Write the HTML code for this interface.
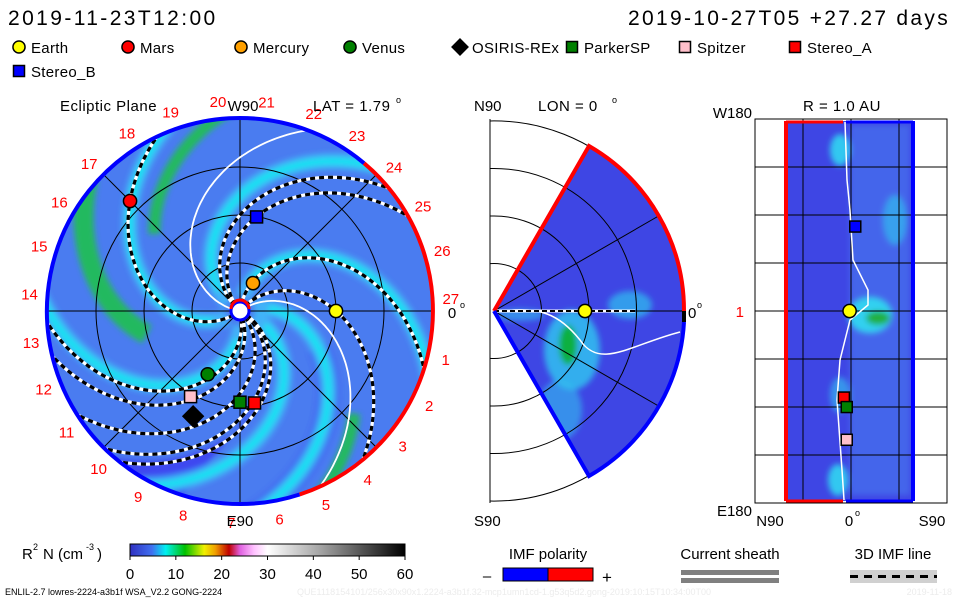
<!DOCTYPE html>
<html><head><meta charset="utf-8">
<style>
body{margin:0;background:#fff;width:960px;height:600px;overflow:hidden;font-family:"Liberation Sans",sans-serif;}
svg{display:block}
text{font-family:"Liberation Sans",sans-serif;}
</style></head>
<body>
<svg id="chart" width="960" height="600" viewBox="0 0 960 600" xmlns="http://www.w3.org/2000/svg">
<defs>
<linearGradient id="cbar" x1="0" x2="1" y1="0" y2="0">
<stop offset="0" stop-color="#3030c0"/><stop offset="0.08" stop-color="#4070f0"/>
<stop offset="0.13" stop-color="#00f0f0"/><stop offset="0.2" stop-color="#00c000"/>
<stop offset="0.27" stop-color="#f0f000"/><stop offset="0.31" stop-color="#f0a000"/>
<stop offset="0.36" stop-color="#c00000"/><stop offset="0.4" stop-color="#e060e0"/>
<stop offset="0.45" stop-color="#ffc0ff"/><stop offset="0.5" stop-color="#ffffff"/>
<stop offset="0.7" stop-color="#a0a0a0"/><stop offset="1" stop-color="#000"/>
</linearGradient>
<clipPath id="discClip"><circle cx="240" cy="311" r="193"/></clipPath>
<clipPath id="wedgeClip"><path d="M494 311 L589 146 A190 190 0 0 1 589 476 Z"/></clipPath>
<clipPath id="midFrame"><rect x="490" y="119" width="200" height="384"/></clipPath>
<filter id="blur4"><feGaussianBlur stdDeviation="3"/></filter>
</defs>
<g id="root"></g>
</svg>
<script>
// ---- data ----
const bodyNames = ["Earth","Mars","Mercury","Venus","OSIRIS-REx","ParkerSP","Spitzer","Stereo_A","Stereo_B"];
const bodyColors = ["#ffff00","#ff0000","#ffa000","#008000","#000000","#008000","#ffc0cb","#ff0000","#0000ff"];
const bodyShapes = ["circle","circle","circle","circle","diamond","square","square","square","square"];
const bodyR = [1.0,1.62,0.32,0.74,1.2,0.95,1.03,0.97,0.995];
const bodyLon = [0,135,65,243,246,270,240,279,80];
const imfStart = [83,50,140,130,216,284,294,313,326,332];
const sheathStart = [170,35];
const greenBands = [244,198,38];
const cyanBands = [20,85,150,215,280,345];
const rTicks = [0.5,1.0,1.5,2.0];
const cbarTicks = [0,10,20,30,40,50,60];
const latBodyIdx = [0,8,7,5,6];
const latLat = [-1,3,-5,-3,-3];
const latLon = [0,80,-82,-91,-122];

const NS="http://www.w3.org/2000/svg";
const root=document.getElementById('root');
function el(tag,attrs,parent){const e=document.createElementNS(NS,tag);for(const k in attrs)e.setAttribute(k,attrs[k]);(parent||root).appendChild(e);return e;}
function txt(x,y,s,size,fill,anchor,parent,ls){const t=el('text',{x:x,y:y,'font-size':size,fill:fill||'#000','text-anchor':anchor||'start'},parent);if(ls)t.setAttribute('letter-spacing',ls);t.textContent=s;return t;}

const CX=240,CY=311,SC=96,K=50;
function px(r,deg){const a=deg*Math.PI/180;return [CX+r*SC*Math.cos(a),CY-r*SC*Math.sin(a)];}
function spiral(th0,k,r0,r1){let d='';for(let r=r0;r<=r1+1e-6;r+=0.02){const p=px(r,th0-k*r);d+=(d?'L':'M')+p[0].toFixed(1)+' '+p[1].toFixed(1);}return d;}

let t=txt(8,25,"2019-11-23T12:00",21,'#000','start',null,2.4);

t=txt(950,25,"2019-10-27T05 +27.27 days",21,'#000','end',null,2.3);


const legX=[14,123,236,345,455,567,680,790,14],legY=[47,47,47,47,47,47,47,47,71];
function marker(parent,shape,x,y,c,s){
  if(shape==='circle')return el('circle',{cx:x,cy:y,r:s*0.55,fill:c,stroke:'#000','stroke-width':1.5},parent);
  if(shape==='diamond')return el('path',{d:`M${x} ${y-s*0.75}L${x+s*0.75} ${y}L${x} ${y+s*0.75}L${x-s*0.75} ${y}Z`,fill:c,stroke:'#000','stroke-width':1},parent);
  return el('rect',{x:x-s/2,y:y-s/2,width:s,height:s,fill:c,stroke:'#000','stroke-width':1.5},parent);
}
bodyNames.forEach((n,i)=>{
  const g=el('g',{});
  
  
  marker(g,bodyShapes[i],legX[i]+5,legY[i],bodyColors[i],11);
  txt(legX[i]+17,legY[i]+6,n,15,'#000','start',g,0.3);
});

// ---- ecliptic panel ----
const ecl=el('g',{});


const bg=el('g',{'clip-path':'url(#discClip)'},ecl);
el('circle',{cx:CX,cy:CY,r:193,fill:'#4a7cf0'},bg);
const soft=el('g',{filter:'url(#blur4)'},bg);
el('path',{d:spiral(330,K,0.9,2.3)+'L'+px(2.3,200).join(' ')+'L'+px(2.3,250).join(' ')+'Z',fill:'#3c3cf0',opacity:0.8},soft);
el('path',{d:spiral(20,K,0.9,2.3),fill:'none',stroke:'#3c3cf0','stroke-width':22,opacity:0.7},soft);
cyanBands.forEach(a=>{
  const p=el('path',{d:spiral(a,K,0.15,2.1),fill:'none',stroke:'#40b8f8','stroke-width':16,opacity:0.9},soft);
  
  
  el('path',{d:spiral(a,K,0.3,2.1),fill:'none',stroke:'#00f0f0','stroke-width':7,opacity:0.8},soft);
});
const gRange=[[1.0,2.1],[1.2,2.1],[1.6,2.1]];
greenBands.forEach((a,i)=>{
  const p=el('path',{d:spiral(a,K,gRange[i][0],gRange[i][1]),fill:'none',stroke:'#20c050','stroke-width':i===0?20:12,opacity:0.9},soft);
  
  
});
rTicks.slice(0,3).forEach(r=>el('circle',{cx:CX,cy:CY,r:r*SC,fill:'none',stroke:'#000','stroke-width':1},bg));
[0,45,90,135].forEach(a=>{const p1=px(2.1,a),p2=px(2.1,a+180);el('line',{x1:p1[0],y1:p1[1],x2:p2[0],y2:p2[1],stroke:'#000','stroke-width':1},bg);});
sheathStart.forEach(a=>{
  const p=el('path',{d:spiral(a,K,0.1,2.1),fill:'none',stroke:'#fff','stroke-width':1.8},bg);
  
  
});
imfStart.forEach(a=>{
  const g=el('g',{},bg);
  
  
  el('path',{d:spiral(a,K,0.08,2.05),fill:'none',stroke:'#fff','stroke-width':3.2},g);
  el('path',{d:spiral(a,K,0.08,2.05),fill:'none',stroke:'#000','stroke-width':3.2,'stroke-dasharray':'5 4'},g);
});
el('path',{d:`M${px(2.01,-72).join(' ')} A193 193 0 0 0 ${px(2.01,50).join(' ')}`,fill:'none',stroke:'#ff0000','stroke-width':4},ecl);
el('path',{d:`M${px(2.01,50).join(' ')} A193 193 0 1 0 ${px(2.01,-72).join(' ')}`,fill:'none',stroke:'#0000ff','stroke-width':4},ecl);
el('circle',{cx:CX,cy:CY,r:9,fill:'#fff',stroke:'#0000ff','stroke-width':3},ecl);
el('path',{d:'M231 309 A9 9 0 0 1 249 309',fill:'none',stroke:'#ff0000','stroke-width':3},ecl);
for(let d=1;d<=27;d++){
  const ang=-(d)*360/27.27;const p=px(2.2,ang);
  txt(p[0],p[1]+6,String(d),15,'#ff0000','middle',ecl);
}
txt(452,318,"0",15,'#000','middle',ecl);txt(460,308,"o",9,'#000','start',ecl);
txt(60,111,"Ecliptic Plane",15,'#000','start',ecl,0.5);
txt(243,111,"W90",15,'#000','middle',ecl);
txt(240,526,"E90",15,'#000','middle',ecl);
txt(313,111,"LAT = 1.79",15,'#000','start',ecl,0.5);txt(396,103,"o",9,'#000','start',ecl);
bodyNames.forEach((n,i)=>{
  const p=px(bodyR[i],bodyLon[i]);
  const m=marker(ecl,bodyShapes[i],p[0],p[1],bodyColors[i],bodyShapes[i]==='diamond'?14:12);
  
  
});

// ---- meridional panel ----
const MX=494,MY=311;
const mer=el('g',{});


const mg=el('g',{'clip-path':'url(#midFrame)'},mer);
rTicks.forEach(r=>el('circle',{cx:MX,cy:MY,r:r*SC*0.99,fill:'none',stroke:'#000','stroke-width':1},mg));
el('line',{x1:490,y1:119,x2:490,y2:503,stroke:'#000'},mer);
const wg=el('g',{'clip-path':'url(#wedgeClip)'},mer);
el('rect',{x:490,y:140,width:200,height:340,fill:'#3e46e4'},wg);
const ws=el('g',{filter:'url(#blur4)'},wg);
el('ellipse',{cx:572,cy:350,rx:28,ry:40,fill:'#30c8f0',opacity:0.8},ws);
el('ellipse',{cx:568,cy:345,rx:9,ry:20,fill:'#10b040'},ws);
el('ellipse',{cx:630,cy:305,rx:22,ry:14,fill:'#30c0f0',opacity:0.7},ws);
el('ellipse',{cx:560,cy:410,rx:22,ry:30,fill:'#30c0f0',opacity:0.6},ws);
el('ellipse',{cx:520,cy:315,rx:25,ry:6,fill:'#30c0f0',opacity:0.6},ws);
el('line',{x1:494,y1:311,x2:690,y2:311,stroke:'#000'},wg);
[60,30,-30,-60].forEach(a=>{const r=a*Math.PI/180;el('line',{x1:MX,y1:MY,x2:MX+200*Math.cos(r),y2:MY-200*Math.sin(r),stroke:'#000'},wg);});
rTicks.forEach(r=>el('circle',{cx:MX,cy:MY,r:r*SC*0.99,fill:'none',stroke:'#000','stroke-width':1},wg));
el('path',{d:'M497 312 C540 305 560 315 580 340 C600 370 630 345 680 332',fill:'none',stroke:'#fff','stroke-width':1.5},wg);
el('path',{d:'M494 311 L635 311',stroke:'#fff','stroke-width':3,fill:'none'},wg);
el('path',{d:'M494 311 L635 311',stroke:'#000','stroke-width':2,'stroke-dasharray':'5 3',fill:'none'},wg);
el('path',{d:'M494 311 L589 146 A190 190 0 0 1 684 311',fill:'none',stroke:'#ff0000','stroke-width':4},mer);
el('path',{d:'M684 322 A190 190 0 0 1 589 476 L494 311',fill:'none',stroke:'#0000ff','stroke-width':4},mer);
el('line',{x1:684,y1:311,x2:684,y2:322,stroke:'#000','stroke-width':4},mer);
marker(mer,'circle',585,311,'#ffff00',12);
txt(474,111,"N90",15);txt(538,111,"LON = 0",15,'#000','start',null,0.5);txt(612,103,"o",9);
txt(474,526,"S90",15);txt(688,318,"0",15);txt(697,308,"o",9);

// ---- R = 1 AU panel ----
const rp=el('g',{});


el('rect',{x:755,y:119,width:192,height:384,fill:'none',stroke:'#000'},rp);
el('rect',{x:786,y:121,width:128,height:380,fill:'#3e46e4'},rp);
const rs=el('g',{filter:'url(#blur4)'},rp);
el('rect',{x:850,y:125,width:60,height:370,fill:'#4a7cf0',opacity:0.6},rs);
el('ellipse',{cx:870,cy:315,rx:22,ry:18,fill:'#30d0f0'},rs);
el('ellipse',{cx:878,cy:318,rx:12,ry:7,fill:'#20b040'},rs);
el('ellipse',{cx:840,cy:150,rx:10,ry:16,fill:'#30c8f0'},rs);
el('ellipse',{cx:838,cy:480,rx:10,ry:16,fill:'#30c8f0'},rs);
el('ellipse',{cx:895,cy:220,rx:12,ry:25,fill:'#30c8f0',opacity:0.6},rs);
el('ellipse',{cx:840,cy:395,rx:10,ry:18,fill:'#30c8f0',opacity:0.6},rs);
[803,851,899].forEach(x=>el('line',{x1:x,y1:119,x2:x,y2:503,stroke:'#000'},rp));
[167,215,263,311,359,407,455].forEach(y=>el('line',{x1:755,y1:y,x2:947,y2:y,stroke:'#000'},rp));
el('path',{d:'M845 122 L847 180 L850 210 L853 260 L868 290 L868 305 L850 320 L840 360 L837 400 L842 470 L844 500',fill:'none',stroke:'#fff','stroke-width':1.5},rp);
el('line',{x1:786,y1:121,x2:786,y2:501,stroke:'#ff0000','stroke-width':4},rp);
el('line',{x1:913,y1:121,x2:913,y2:501,stroke:'#0000ff','stroke-width':4},rp);
el('line',{x1:786,y1:122,x2:843,y2:122,stroke:'#ff0000','stroke-width':3},rp);
el('line',{x1:846,y1:122,x2:913,y2:122,stroke:'#0000ff','stroke-width':3},rp);
el('line',{x1:786,y1:501,x2:843,y2:501,stroke:'#ff0000','stroke-width':3},rp);
el('line',{x1:846,y1:501,x2:913,y2:501,stroke:'#0000ff','stroke-width':3},rp);
latBodyIdx.forEach((bi,i)=>{
  const x=851+latLat[i]*128/90;
  const y=311-latLon[i]*190/180;
  const m=marker(rp,bodyShapes[bi],x,y,bodyColors[bi],bi===0?12:11);
  
  
});
txt(803,111,"R = 1.0 AU",15,'#000','start',null,0.5);
txt(752,118,"W180",15,'#000','end');txt(752,516,"E180",15,'#000','end');
txt(744,317,"1",15,'#ff0000','end');
txt(770,526,"N90",15,'#000','middle');txt(849,526,"0",15,'#000','middle');txt(855,516,"o",9);
txt(932,526,"S90",15,'#000','middle');

// ---- colorbar ----
const cb=el('g',{});


el('rect',{x:130,y:544,width:275,height:12,fill:'url(#cbar)',stroke:'#000'},cb);
txt(22,559,"R",15,'#000','start',cb);txt(33,550,"2",9,'#000','start',cb);
txt(43,559,"N (cm",15,'#000','start',cb);txt(86,550,"-3",9,'#000','start',cb);txt(97,559,")",15,'#000','start',cb);
cbarTicks.forEach(v=>{const x=130+v/60*275;el('line',{x1:x,y1:556,x2:x,y2:560,stroke:'#000'},cb);txt(x,579,String(v),15,'#000','middle',cb);});

const ip=el('g',{});
txt(548,559,"IMF polarity",15,'#000','middle',ip);
el('rect',{x:503,y:568,width:45,height:13,fill:'#0000ff',stroke:'#000'},ip);
el('rect',{x:548,y:568,width:45,height:13,fill:'#ff0000',stroke:'#000'},ip);
txt(487,581,"–",15,'#000','middle',ip);txt(607,583,"+",17,'#000','middle',ip);
const cs=el('g',{});
txt(730,559,"Current sheath",15,'#000','middle',cs);
el('rect',{x:681,y:570,width:98,height:5,fill:'#808080'},cs);
el('rect',{x:681,y:578,width:98,height:5,fill:'#808080'},cs);
const il=el('g',{});
txt(893,559,"3D IMF line",15,'#000','middle',il);
el('rect',{x:850,y:570,width:87,height:13,fill:'#d0d0d0'},il);
el('line',{x1:850,y1:576.5,x2:937,y2:576.5,stroke:'#000','stroke-width':3,'stroke-dasharray':'8 6'},il);
txt(5,595,"ENLIL-2.7 lowres-2224-a3b1f WSA_V2.2 GONG-2224",9);
txt(297,595,"QUE1118154101/256x30x90x1.2224-a3b1f.32-mcp1umn1cd-1.g53q5d2.gong-2019:10:15T10:34:00T00",9,'#ececec');
txt(952,595,"2019-11-18",9,'#ececec','end');
</script>
</body></html>
